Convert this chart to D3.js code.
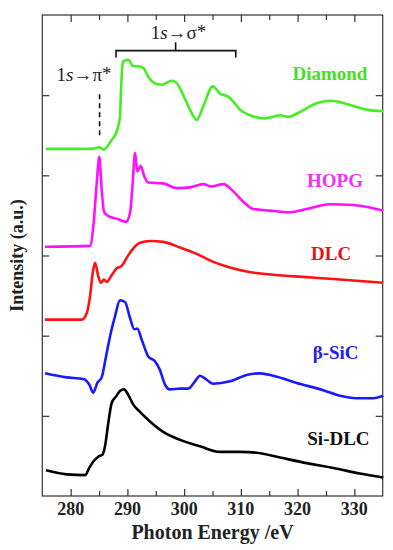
<!DOCTYPE html>
<html>
<head>
<meta charset="utf-8">
<script src="https://cdn.jsdelivr.net/npm/d3@7"></script>
<style>
  body { margin: 0; background: #fff; }
</style>
</head>
<body>
<svg id="chart" width="393" height="550" font-family="'Liberation Serif', 'DejaVu Serif', serif"></svg>
<script>
// energier (eV) og intensiteter (a.u., forskudt)
const diamondE = [275.65, 283.71, 285.17, 285.75, 287.23, 288.22, 288.69, 288.87, 289.17, 289.4, 290.16, 291.04, 291.92, 292.8, 293.68, 294.56, 296.04, 297.81, 298.69, 299.85, 301.03, 302.21, 303.38, 305.03, 306.32, 307.78, 308.66, 309.84, 311.6, 313.95, 315.71, 316.89, 318.35, 320.42, 323.36, 326.0, 328.65, 332.17, 335.1];
const diamondI = [4.33, 4.33, 4.35, 4.32, 4.44, 4.57, 4.73, 5.06, 5.4, 5.43, 5.44, 5.36, 5.36, 5.34, 5.23, 5.16, 5.13, 5.18, 5.15, 5.0, 4.82, 4.69, 4.86, 5.11, 5.02, 4.98, 4.92, 4.82, 4.75, 4.71, 4.73, 4.75, 4.73, 4.79, 4.9, 4.93, 4.89, 4.82, 4.8];

const hopgE = [275.48, 283.41, 283.99, 284.59, 285.05, 285.47, 285.87, 286.63, 288.11, 289.75, 290.46, 290.93, 291.34, 291.74, 292.34, 292.92, 293.68, 296.32, 298.69, 301.03, 303.38, 304.86, 306.9, 308.66, 310.43, 312.19, 315.13, 318.66, 321.6, 325.71, 329.81, 333.34, 335.1];
const hopgI = [3.11, 3.12, 3.36, 3.9, 4.23, 3.82, 3.55, 3.49, 3.46, 3.42, 3.53, 3.9, 4.28, 4.05, 4.12, 4.0, 3.91, 3.9, 3.84, 3.85, 3.89, 3.86, 3.89, 3.8, 3.67, 3.58, 3.56, 3.54, 3.58, 3.64, 3.63, 3.59, 3.56];

const dlcE = [275.48, 281.94, 282.83, 283.41, 283.88, 284.29, 284.87, 285.35, 285.87, 286.35, 287.11, 288.11, 289.0, 289.87, 291.04, 292.22, 293.98, 296.32, 299.27, 302.21, 305.14, 308.08, 311.02, 315.71, 321.6, 327.47, 335.1];
const dlcI = [2.2, 2.2, 2.28, 2.49, 2.78, 2.91, 2.74, 2.66, 2.7, 2.67, 2.74, 2.84, 2.87, 2.97, 3.09, 3.16, 3.18, 3.17, 3.1, 3.02, 2.92, 2.85, 2.8, 2.76, 2.73, 2.7, 2.66];

const sicE = [275.48, 279.3, 282.23, 283.28, 283.99, 284.69, 285.47, 286.23, 287.06, 287.81, 288.69, 289.58, 290.46, 291.21, 291.74, 292.52, 293.68, 294.86, 295.74, 296.63, 297.51, 299.27, 300.73, 301.91, 302.79, 303.97, 305.14, 308.08, 311.02, 313.37, 315.71, 319.84, 324.52, 327.47, 330.41, 333.34, 335.1];
const sicI = [1.53, 1.48, 1.46, 1.39, 1.29, 1.41, 1.48, 1.74, 2.03, 2.24, 2.44, 2.42, 2.22, 2.08, 2.09, 1.95, 1.74, 1.68, 1.57, 1.39, 1.33, 1.34, 1.34, 1.43, 1.5, 1.45, 1.4, 1.43, 1.51, 1.53, 1.5, 1.41, 1.32, 1.25, 1.22, 1.22, 1.25];

const sidlcE = [275.65, 279.3, 282.53, 283.28, 283.99, 284.87, 285.64, 286.05, 286.63, 287.23, 287.99, 288.69, 289.4, 290.16, 291.04, 292.22, 293.98, 296.32, 299.27, 302.79, 306.32, 309.84, 312.79, 316.89, 321.6, 326.29, 330.99, 335.1];
const sidlcI = [0.32, 0.27, 0.26, 0.35, 0.43, 0.49, 0.52, 0.62, 0.91, 1.16, 1.24, 1.31, 1.33, 1.26, 1.14, 1.05, 0.93, 0.8, 0.7, 0.62, 0.55, 0.55, 0.54, 0.48, 0.41, 0.35, 0.28, 0.23];

// navne, farver og placering af etiketter (energi, intensitet)
const sampleNames = ["Diamond", "HOPG", "DLC", "β-SiC", "Si-DLC"];
const lineColors = ["#44ee22", "#ff11ff", "#ff1111", "#1a1aff", "#000000"];
const textColors = ["#44e022", "#ee33ee", "#ee1111", "#2222ee", "#111111"];
const labelE = [325.7, 326.6, 325.9, 326.7, 327.2];
const labelI = [5.19, 3.86, 2.94, 1.71, 0.64];

// akse-ticks
const xTicks = [280, 290, 300, 310, 320, 330];
const xMinor = [285, 295, 305, 315, 325];
const yTicks = [1, 2, 3, 4, 5];

// overgangs-markeringer
const piLineE = 285.1, piLineI = [4.5, 5.05];
const sigmaRange = [288.0, 309.1], sigmaMid = 298.5;
const bracketI = [5.47, 5.555, 5.66];

const svg = d3.select("#chart");
const margin = { top: 15, right: 10.3, bottom: 54, left: 42.3 };
const width = +svg.attr("width") - margin.left - margin.right;
const height = +svg.attr("height") - margin.top - margin.bottom;

const g = svg.append("g").attr("transform", `translate(${margin.left},${margin.top})`);

const x = d3.scaleLinear().domain([275, 335]).range([0, width]);
const y = d3.scaleLinear().domain([0, 6]).range([height, 0]);

// ramme
g.append("rect")
  .attr("width", width)
  .attr("height", height)
  .attr("fill", "none")
  .attr("stroke", "#333")
  .attr("stroke-width", 1.2);

// ticks peger indad paa alle fire sider
function tickAxis(axisFn, scale, ticks, size, tr) {
  const a = g.append("g")
    .attr("transform", tr)
    .call(axisFn(scale).tickValues(ticks).tickSize(size).tickFormat(""));
  a.select(".domain").remove();
  a.selectAll("line").attr("stroke", "#333").attr("stroke-width", 1.2);
  return a;
}
tickAxis(d3.axisTop, x, xTicks, 7, `translate(0,${height})`);
tickAxis(d3.axisTop, x, xMinor, 5, `translate(0,${height})`);
tickAxis(d3.axisBottom, x, xTicks, 7, "translate(0,0)");
tickAxis(d3.axisBottom, x, xMinor, 5, "translate(0,0)");
tickAxis(d3.axisRight, y, yTicks, 7, "translate(0,0)");
tickAxis(d3.axisLeft, y, yTicks, 7, `translate(${width},0)`);

// x tal-etiketter
g.append("g")
  .selectAll("text")
  .data(xTicks)
  .join("text")
  .attr("x", (d) => x(d))
  .attr("y", height + 19)
  .attr("text-anchor", "middle")
  .attr("font-size", 18)
  .attr("font-weight", "bold")
  .attr("fill", "#222")
  .text((d) => d);

// aksetitler
svg.append("text")
  .attr("x", margin.left + width / 2)
  .attr("y", 539)
  .attr("text-anchor", "middle")
  .attr("font-size", 20)
  .attr("font-weight", "bold")
  .attr("fill", "#222")
  .text("Photon Energy /eV");

svg.append("text")
  .attr("transform", `translate(23,${margin.top + height / 2}) rotate(-90)`)
  .attr("text-anchor", "middle")
  .attr("font-size", 18)
  .attr("font-weight", "bold")
  .attr("fill", "#222")
  .text("Intensity (a.u.)");

// spektre
const series = [
  [diamondE, diamondI],
  [hopgE, hopgI],
  [dlcE, dlcI],
  [sicE, sicI],
  [sidlcE, sidlcI]
];
const line = d3.line()
  .x((d) => x(d[0]))
  .y((d) => y(d[1]))
  .curve(d3.curveMonotoneX);

series.forEach(([es, is], i) => {
  g.append("path")
    .datum(es.map((e, k) => [e, is[k]]))
    .attr("fill", "none")
    .attr("stroke", lineColors[i])
    .attr("stroke-width", 2.6)
    .attr("stroke-linejoin", "round")
    .attr("d", line);

  g.append("text")
    .attr("x", x(labelE[i]))
    .attr("y", y(labelI[i]))
    .attr("text-anchor", "middle")
    .attr("font-size", 19)
    .attr("font-weight", "bold")
    .attr("fill", textColors[i])
    .text(sampleNames[i]);
});

// 1s -> pi* stiplet linje og tekst
g.append("line")
  .attr("x1", x(piLineE)).attr("x2", x(piLineE))
  .attr("y1", y(piLineI[0])).attr("y2", y(piLineI[1]))
  .attr("stroke", "#111")
  .attr("stroke-width", 1.6)
  .attr("stroke-dasharray", "5,4");

function transitionLabel(cx, cy, greek) {
  const t = g.append("text")
    .attr("x", cx)
    .attr("y", cy)
    .attr("text-anchor", "middle")
    .attr("font-size", 19)
    .attr("fill", "#222");
  t.append("tspan").text("1");
  t.append("tspan").attr("font-style", "italic").text("s");
  t.append("tspan").text("→" + greek);
  t.append("tspan").attr("dy", -1).text("*");
}
transitionLabel(x(282.35), y(5.18), "π");
transitionLabel(x(299.0), y(5.7), "σ");

// klamme over 1s -> sigma* omraadet
const bracket = d3.path();
bracket.moveTo(x(sigmaRange[0]), y(bracketI[0]));
bracket.lineTo(x(sigmaRange[0]), y(bracketI[1]));
bracket.lineTo(x(sigmaRange[1]), y(bracketI[1]));
bracket.lineTo(x(sigmaRange[1]), y(bracketI[0]));
bracket.moveTo(x(sigmaMid), y(bracketI[1]));
bracket.lineTo(x(sigmaMid), y(bracketI[2]));
g.append("path")
  .attr("d", bracket.toString())
  .attr("fill", "none")
  .attr("stroke", "#111")
  .attr("stroke-width", 1.6);
</script>
</body>
</html>
